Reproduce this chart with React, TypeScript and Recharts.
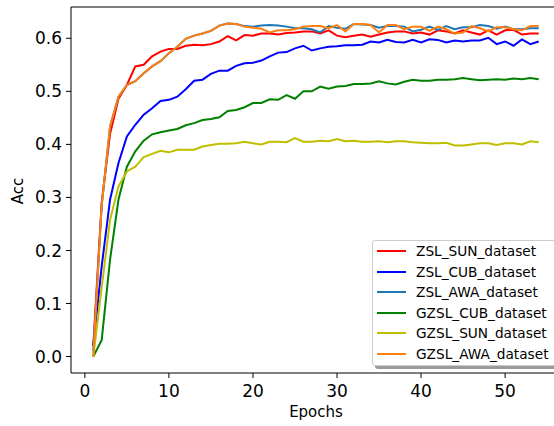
import React from "react";
import { LineChart, Line, XAxis, YAxis, ReferenceLine } from "recharts";

// epochs 1..54
const epochs = [
  1, 2, 3, 4, 5, 6, 7, 8, 9, 10, 11, 12, 13, 14, 15, 16, 17, 18, 19, 20, 21, 22, 23, 24, 25, 26, 27,
  28, 29, 30, 31, 32, 33, 34, 35, 36, 37, 38, 39, 40, 41, 42, 43, 44, 45, 46, 47, 48, 49, 50, 51, 52,
  53, 54,
];

const zslSun = [
  0.02, 0.29, 0.42, 0.486, 0.512, 0.547, 0.55, 0.566, 0.575, 0.58,
  0.58, 0.586, 0.588, 0.587, 0.589, 0.594, 0.604, 0.596, 0.606, 0.605,
  0.609, 0.609, 0.607, 0.61, 0.611, 0.613, 0.613, 0.609, 0.615, 0.605,
  0.602, 0.605, 0.607, 0.603, 0.607, 0.611, 0.613, 0.613, 0.609, 0.611,
  0.607, 0.615, 0.613, 0.609, 0.615, 0.611, 0.607, 0.615, 0.607, 0.615,
  0.616, 0.607, 0.609, 0.609,
];
const zslCub = [
  0.02, 0.17, 0.296, 0.365, 0.415, 0.437, 0.456, 0.468, 0.482, 0.484,
  0.49, 0.504, 0.52, 0.522, 0.533, 0.539, 0.539, 0.548, 0.553, 0.554,
  0.558, 0.566, 0.573, 0.574, 0.581, 0.586, 0.577, 0.581, 0.584, 0.585,
  0.587, 0.587, 0.588, 0.594, 0.592, 0.597, 0.593, 0.592, 0.597, 0.592,
  0.598, 0.597, 0.592, 0.596, 0.594, 0.596, 0.596, 0.601, 0.589, 0.594,
  0.586, 0.598, 0.589, 0.594,
];
const zslAwa = [
  0.01, 0.285, 0.434, 0.49, 0.512, 0.519, 0.534, 0.547, 0.557, 0.572,
  0.584, 0.599, 0.605, 0.609, 0.614, 0.624, 0.628, 0.627, 0.623, 0.622,
  0.624, 0.625, 0.624, 0.622, 0.619, 0.619, 0.617, 0.611, 0.623, 0.62,
  0.618, 0.627, 0.626, 0.625, 0.62, 0.623, 0.623, 0.622, 0.613, 0.616,
  0.622, 0.616, 0.623, 0.617, 0.621, 0.621, 0.625, 0.623, 0.618, 0.622,
  0.617, 0.617, 0.619, 0.619,
];
const gzslCub = [
  0, 0.031, 0.183, 0.296, 0.358, 0.387, 0.407, 0.419, 0.423, 0.426,
  0.429, 0.436, 0.44, 0.446, 0.448, 0.451, 0.463, 0.465, 0.47, 0.478,
  0.478, 0.485, 0.484, 0.493, 0.486, 0.5, 0.5, 0.509, 0.505, 0.509,
  0.51, 0.514, 0.514, 0.515, 0.519, 0.515, 0.513, 0.518, 0.522, 0.52,
  0.52, 0.522, 0.522, 0.523, 0.525, 0.523, 0.521, 0.522, 0.523, 0.522,
  0.524, 0.523, 0.525, 0.523,
];
const gzslSun = [
  0, 0.13, 0.258, 0.321, 0.349, 0.358, 0.376, 0.382, 0.388, 0.385,
  0.39, 0.39, 0.39, 0.396, 0.399, 0.401, 0.401, 0.402, 0.405, 0.402,
  0.4, 0.405, 0.405, 0.404, 0.412, 0.405, 0.405, 0.407, 0.406, 0.41,
  0.406, 0.407, 0.405, 0.405, 0.406, 0.404, 0.406, 0.406, 0.404, 0.403,
  0.402, 0.402, 0.403, 0.398, 0.398, 0.4, 0.402, 0.402, 0.399, 0.402,
  0.402, 0.4, 0.406, 0.404,
];
const gzslAwa = [
  0, 0.285, 0.434, 0.49, 0.512, 0.519, 0.534, 0.547, 0.557, 0.572,
  0.584, 0.599, 0.605, 0.609, 0.614, 0.624, 0.628, 0.627, 0.622, 0.62,
  0.618, 0.611, 0.615, 0.615, 0.617, 0.622, 0.623, 0.623, 0.619, 0.625,
  0.613, 0.627, 0.627, 0.625, 0.611, 0.625, 0.625, 0.617, 0.622, 0.622,
  0.614, 0.622, 0.617, 0.609, 0.611, 0.623, 0.619, 0.613, 0.621, 0.621,
  0.617, 0.615, 0.623, 0.623,
];

const xTicks = [0, 10, 20, 30, 40, 50];
const yTicks = [0, 0.1, 0.2, 0.3, 0.4, 0.5, 0.6];

const series = [
  { key: "zslSun", name: "ZSL_SUN_dataset", color: "#ff0000", values: zslSun },
  { key: "zslCub", name: "ZSL_CUB_dataset", color: "#0000ff", values: zslCub },
  { key: "zslAwa", name: "ZSL_AWA_dataset", color: "#1f77b4", values: zslAwa },
  { key: "gzslCub", name: "GZSL_CUB_dataset", color: "#008000", values: gzslCub },
  { key: "gzslSun", name: "GZSL_SUN_dataset", color: "#bfbf00", values: gzslSun },
  { key: "gzslAwa", name: "GZSL_AWA_dataset", color: "#ff7f0e", values: gzslAwa },
];

const data = epochs.map((epoch, i) => {
  const row: Record<string, number> = { epoch };
  series.forEach((s) => (row[s.key] = s.values[i]));
  return row;
});

const FONT = "'DejaVu Sans', sans-serif";
const Y_MIN = -0.031;
const Y_MAX = 0.659;

const AccLabel = () => (
  <text
    transform="translate(23, 191) rotate(-90)"
    textAnchor="middle"
    fontSize={15}
    fontFamily={FONT}
    fill="#000"
  >
    Acc
  </text>
);

export default function App() {
  return (
    <div
      style={{
        position: "fixed",
        left: 0,
        top: 0,
        width: 554,
        height: 426,
        overflow: "hidden",
        background: "#fff",
      }}
    >
      <LineChart width={570} height={426} data={data} margin={{ top: 7, right: 9, bottom: 0, left: 0 }}>
        <XAxis
          dataKey="epoch"
          type="number"
          domain={[-1.65, 56.65]}
          ticks={xTicks}
          allowDataOverflow
          height={53}
          tickSize={5}
          tickMargin={7}
          axisLine={{ stroke: "#000", strokeWidth: 1 }}
          tickLine={{ stroke: "#000" }}
          tick={{ fontSize: 17, fill: "#000", fontFamily: FONT }}
          label={{ value: "Epochs", position: "insideBottom", offset: 9, fontSize: 15, fill: "#000", fontFamily: FONT }}
        />
        <YAxis
          type="number"
          domain={[Y_MIN, Y_MAX]}
          ticks={yTicks}
          allowDataOverflow
          width={71}
          tickSize={5}
          tickMargin={4}
          tickFormatter={(v: number) => v.toFixed(1)}
          axisLine={{ stroke: "#000", strokeWidth: 1 }}
          tickLine={{ stroke: "#000" }}
          tick={{ fontSize: 17, fill: "#000", fontFamily: FONT }}
          label={<AccLabel />}
        />
        <ReferenceLine y={Y_MAX} stroke="#000" strokeWidth={1} ifOverflow="visible" />
        {series.map((s) => (
          <Line
            key={s.key}
            dataKey={s.key}
            name={s.name}
            type="linear"
            stroke={s.color}
            strokeWidth={2}
            dot={false}
            isAnimationActive={false}
          />
        ))}
      </LineChart>
      {/* legend, matplotlib style with shadow, runs off the right edge */}
      <div
        style={{
          position: "absolute",
          left: 372,
          top: 240,
          width: 200,
          height: 124,
          border: "1px solid #cccccc",
          borderRadius: 3,
          background: "#fff",
          boxShadow: "3px 3px 0 #9a9a9a",
          fontFamily: FONT,
          fontSize: 13.7,
          color: "#000",
        }}
      >
        {series.map((s, i) => (
          <div
            key={s.key}
            style={{ position: "absolute", left: 0, top: 10 + i * 20.5 - 10, height: 20, display: "flex", alignItems: "center" }}
          >
            <span style={{ display: "inline-block", marginLeft: 4, width: 29, height: 2, background: s.color }} />
            <span style={{ marginLeft: 10, whiteSpace: "nowrap" }}>{s.name}</span>
          </div>
        ))}
      </div>
    </div>
  );
}
